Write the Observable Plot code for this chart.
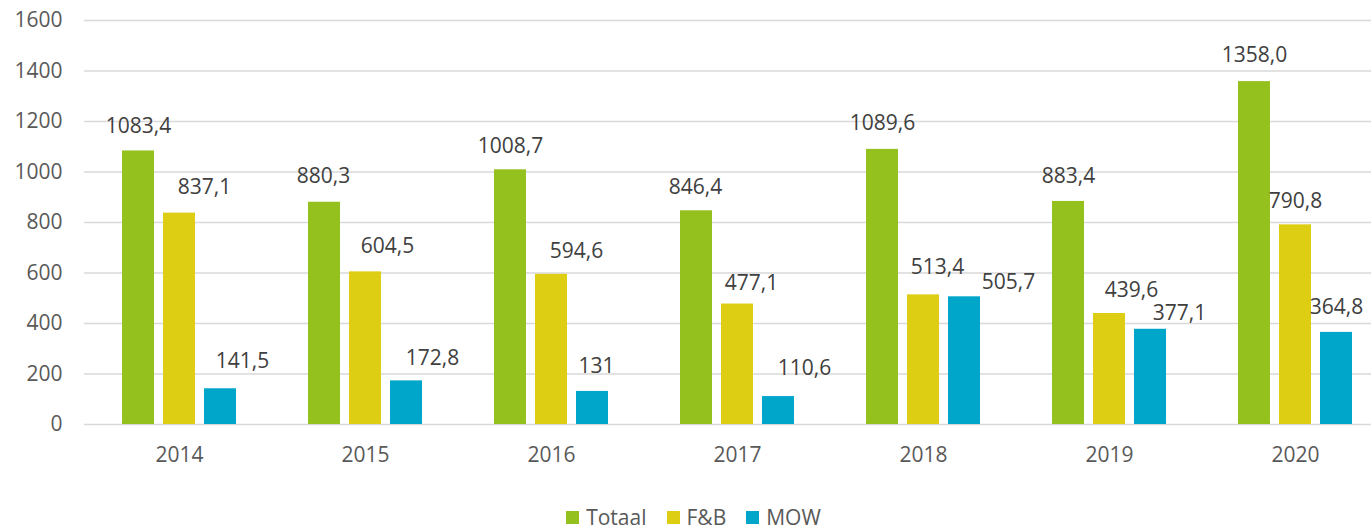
<!DOCTYPE html>
<html>
<head>
<meta charset="utf-8">
<script src="https://cdn.jsdelivr.net/npm/d3@7"></script>
<script src="https://cdn.jsdelivr.net/npm/@observablehq/plot@0.6"></script>
<style>
  html, body { margin: 0; padding: 0; background: #fff; overflow: hidden; }
  #chart svg { display: block; }
  .legend { display: flex; justify-content: center; padding-left: 16px; padding-top: 17px; height: 21px;
            font-family: "Open Sans", sans-serif; font-size: 21px; color: #595959; line-height: 21px; }
  .legend .item { display: flex; align-items: center; margin-right: 20px; }
  .legend .item:last-child { margin-right: 0; }
  .legend .sw { width: 13px; height: 13px; margin-right: 7px; }
</style>
</head>
<body>
<div id="chart"></div>
<script>
// ---- data ----
const years = ["2014", "2015", "2016", "2017", "2018", "2019", "2020"];
const seriesNames = ["Totaal", "F&B", "MOW"];
const totaal = [1083.4, 880.3, 1008.7, 846.4, 1089.6, 883.4, 1358.0];
const fnb = [837.1, 604.5, 594.6, 477.1, 513.4, 439.6, 790.8];
const mow = [141.5, 172.8, 131, 110.6, 505.7, 377.1, 364.8];
const totaalLabels = ["1083,4", "880,3", "1008,7", "846,4", "1089,6", "883,4", "1358,0"];
const fnbLabels = ["837,1", "604,5", "594,6", "477,1", "513,4", "439,6", "790,8"];
const mowLabels = ["141,5", "172,8", "131", "110,6", "505,7", "377,1", "364,8"];
const yTicks = [0, 200, 400, 600, 800, 1000, 1200, 1400, 1600];

// ---- style ----
const colors = ["#95C11F", "#DDCD13", "#00A6CA"];
const barShift = [-41, 0, 41];            // pixel shift of each series inside a year group
const labelNudge = [                      // per-point label nudges (dx, dy) in pixels
  {dx: [0, -1, 0, -1, 0, 0, 0], dy: [-25, -26, -24, -24, -26, -25, -26]},
  {dx: [25, 22, 25, 14, 14, 22, 0], dy: [-26, -26, -23, -21, -28, -23, -24]},
  {dx: [22, 26, 4, 26, 44, 29, 0], dy: [-28, -23, -25, -28, -15, -16, -25]}
];
const font = "'Open Sans', sans-serif";

const seriesValues = [totaal, fnb, mow];
const seriesLabels = [totaalLabels, fnbLabels, mowLabels];
const rows = seriesNames.map((s, si) => years.map((y, yi) => ({
  year: y, series: s, value: seriesValues[si][yi], label: seriesLabels[si][yi], si, yi
})));

const marks = [
  Plot.gridY(yTicks, {stroke: "#d9d9d9", strokeOpacity: 1, strokeWidth: 1.6}),
  Plot.axisY(yTicks, {tickSize: 0, tickPadding: 22, fontSize: 21, fill: "#595959", label: null,
                      fontFamily: font, tickFormat: (d) => String(d)}),
  Plot.axisX({tickSize: 0, tickPadding: 23, fontSize: 21, fill: "#595959", label: null, fontFamily: font})
];
rows.forEach((data, si) => {
  marks.push(Plot.barY(data, {x: "year", y: "value", fill: "series", dx: barShift[si]}));
});
rows.forEach((data, si) => {
  data.forEach((d) => {
    marks.push(Plot.text([d], {
      x: "year", y: "value", text: "label",
      dx: barShift[si] + labelNudge[si].dx[d.yi],
      dy: labelNudge[si].dy[d.yi],
      fontSize: 21, fill: "#404040", fontFamily: font, lineAnchor: "middle"
    }));
  });
});

const plot = Plot.plot({
  width: 1371,
  height: 490,
  marginTop: 20,
  marginBottom: 66,
  marginLeft: 84,
  marginRight: 0,
  style: {fontFamily: font, background: "#fff"},
  x: {domain: years, range: [84, 1390], paddingInner: 0.8285, paddingOuter: 0.41425, label: null},
  y: {domain: [0, 1600], range: [424, 20], label: null},
  color: {domain: seriesNames, range: colors},
  marks
});
document.getElementById("chart").appendChild(plot);

// legend
const legend = document.createElement("div");
legend.className = "legend";
seriesNames.forEach((s, i) => {
  const item = document.createElement("div");
  item.className = "item";
  const sw = document.createElement("div");
  sw.className = "sw";
  sw.style.background = colors[i];
  const t = document.createElement("span");
  t.textContent = s;
  item.appendChild(sw);
  item.appendChild(t);
  legend.appendChild(item);
});
document.getElementById("chart").appendChild(legend);
</script>
</body>
</html>
